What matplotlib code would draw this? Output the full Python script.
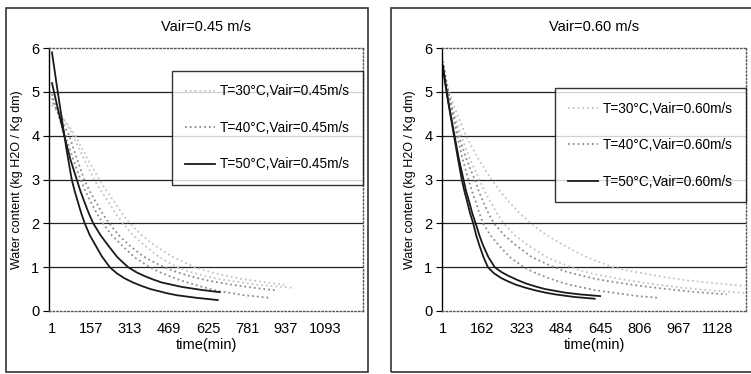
import matplotlib.pyplot as plt
from matplotlib.patches import Rectangle

plt.rcParams['font.family'] = ['Liberation Sans', 'DejaVu Sans']

# ---- Vair = 0.45 m/s (two runs per temperature) ----
t50a_45 = [1, 20, 40, 60, 80, 92, 105, 118, 132, 152, 175, 200, 232, 260, 290, 325, 360, 395, 430, 465, 500, 580, 664]
w50a_45 = [5.9, 5.15, 4.4, 3.65, 3.0, 2.73, 2.48, 2.23, 2.0, 1.73, 1.5, 1.25, 1.0, 0.86, 0.75, 0.65, 0.57, 0.5, 0.45, 0.4, 0.36, 0.30, 0.25]
t50b_45 = [1, 25, 50, 75, 100, 115, 130, 148, 166, 195, 225, 262, 305, 340, 370, 405, 440, 480, 520, 600, 672]
w50b_45 = [5.2, 4.6, 4.0, 3.45, 3.0, 2.73, 2.5, 2.23, 2.0, 1.73, 1.5, 1.23, 1.0, 0.88, 0.8, 0.72, 0.65, 0.6, 0.55, 0.48, 0.43]
t40a_45 = [1, 30, 60, 88, 115, 135, 155, 180, 205, 240, 280, 330, 392, 430, 470, 515, 560, 615, 672, 770, 872]
w40a_45 = [4.95, 4.4, 3.9, 3.43, 3.0, 2.73, 2.5, 2.23, 2.0, 1.73, 1.5, 1.23, 1.0, 0.89, 0.8, 0.7, 0.62, 0.53, 0.45, 0.36, 0.30]
t40b_45 = [1, 35, 70, 100, 130, 152, 175, 202, 230, 268, 310, 365, 430, 475, 520, 570, 620, 720, 820, 900]
w40b_45 = [4.85, 4.4, 4.0, 3.48, 3.0, 2.73, 2.5, 2.23, 2.0, 1.73, 1.5, 1.25, 1.05, 0.94, 0.85, 0.77, 0.70, 0.60, 0.52, 0.47]
t30a_45 = [1, 45, 85, 128, 170, 198, 225, 255, 285, 325, 370, 430, 500, 550, 600, 650, 700, 820, 964]
w30a_45 = [4.75, 4.4, 4.0, 3.48, 3.0, 2.73, 2.5, 2.23, 2.0, 1.73, 1.5, 1.23, 1.0, 0.9, 0.82, 0.75, 0.70, 0.60, 0.53]
t30b_45 = [1, 48, 95, 142, 190, 220, 250, 280, 312, 360, 410, 485, 572, 615, 660, 710, 760, 860, 930]
w30b_45 = [4.7, 4.38, 4.0, 3.48, 3.0, 2.73, 2.5, 2.23, 2.0, 1.73, 1.5, 1.23, 1.0, 0.92, 0.85, 0.79, 0.73, 0.65, 0.60]

# ---- Vair = 0.60 m/s ----
t50a_60 = [1, 20, 40, 60, 78, 89, 100, 112, 125, 137, 150, 167, 185, 210, 240, 270, 300, 340, 380, 420, 460, 540, 623]
w50a_60 = [5.6, 4.85, 4.2, 3.55, 3.0, 2.73, 2.5, 2.23, 2.0, 1.73, 1.5, 1.23, 1.0, 0.86, 0.75, 0.67, 0.60, 0.53, 0.47, 0.42, 0.38, 0.32, 0.28]
t50b_60 = [1, 22, 45, 65, 85, 96, 108, 121, 135, 150, 165, 187, 213, 240, 270, 305, 340, 380, 420, 460, 500, 560, 645]
w50b_60 = [5.5, 4.8, 4.1, 3.5, 3.0, 2.73, 2.5, 2.23, 2.0, 1.73, 1.5, 1.23, 1.0, 0.89, 0.8, 0.71, 0.63, 0.56, 0.50, 0.46, 0.42, 0.38, 0.34]
t40a_60 = [1, 28, 55, 80, 105, 120, 135, 150, 165, 195, 230, 275, 332, 375, 420, 470, 520, 620, 720, 800, 886]
w40a_60 = [5.7, 4.85, 4.1, 3.5, 3.0, 2.73, 2.5, 2.23, 2.0, 1.73, 1.5, 1.23, 1.0, 0.88, 0.78, 0.68, 0.60, 0.48, 0.40, 0.34, 0.30]
t40b_60 = [1, 32, 65, 98, 131, 148, 165, 187, 210, 252, 300, 365, 455, 505, 560, 620, 680, 800, 920, 1040, 1164]
w40b_60 = [5.6, 4.75, 4.0, 3.45, 3.0, 2.73, 2.5, 2.23, 2.0, 1.73, 1.5, 1.23, 1.0, 0.9, 0.82, 0.74, 0.68, 0.58, 0.50, 0.43, 0.38]
t30a_60 = [1, 38, 75, 112, 150, 172, 195, 222, 250, 295, 350, 425, 525, 580, 640, 700, 760, 880, 1000, 1120, 1238]
w30a_60 = [5.5, 4.7, 4.0, 3.45, 3.0, 2.73, 2.5, 2.23, 2.0, 1.73, 1.5, 1.23, 1.0, 0.9, 0.82, 0.76, 0.70, 0.60, 0.52, 0.46, 0.41]
t30b_60 = [1, 48, 95, 148, 200, 235, 270, 315, 361, 418, 480, 580, 697, 750, 800, 850, 900, 1000, 1120, 1238]
w30b_60 = [5.4, 4.65, 4.0, 3.45, 3.0, 2.73, 2.5, 2.23, 2.0, 1.76, 1.55, 1.25, 1.0, 0.93, 0.88, 0.83, 0.78, 0.70, 0.63, 0.57]

ticks_45 = [1, 157, 313, 469, 625, 781, 937, 1093]
ticks_60 = [1, 162, 323, 484, 645, 806, 967, 1128]

c30, c40, c50 = '#c4c4c4', '#8c8c8c', '#1a1a1a'

fig = plt.figure(figsize=(7.51, 3.74), dpi=100)

# panel frames
for x0, w in [(6, 362), (391, 362)]:
    fig.patches.append(Rectangle((x0 / 751, 2 / 374), w / 751, 364 / 374, transform=fig.transFigure,
                                 fill=False, ec='#333333', lw=1.2))

ax1 = fig.add_axes([49 / 751, 63 / 374, 314 / 751, 263 / 374])
ax2 = fig.add_axes([442 / 751, 63 / 374, 304 / 751, 263 / 374])


def style(ax, ticks, xmin, xmax, title, legbox):
    ax.set_xlim(xmin, xmax)
    ax.set_ylim(0, 6)
    ax.set_yticks(range(7))
    ax.set_xticks(ticks)
    ax.tick_params(axis='x', length=0, labelsize=10.5, pad=8)
    ax.tick_params(axis='y', length=4, labelsize=10.5, pad=3)
    for y in range(1, 6):
        ax.axhline(y, color='#222222', lw=0.9, zorder=0)
    ax.spines['left'].set_color('black')
    ax.spines['left'].set_linewidth(1.0)
    for s in ['top', 'right', 'bottom']:
        ax.spines[s].set_linestyle(':')
        ax.spines[s].set_color('#555555')
        ax.spines[s].set_linewidth(1.0)
    ax.set_xlabel('time(min)', fontsize=10.5, labelpad=1)
    ax.set_ylabel('Water content (kg H2O / Kg dm)', fontsize=9, labelpad=6)
    ax.set_title(title, fontsize=10.5, pad=12)
    leg = ax.legend(loc='upper right', bbox_to_anchor=legbox, fontsize=9.8, frameon=True,
                    fancybox=False, edgecolor='black', handlelength=2.2, handletextpad=0.3,
                    labelspacing=1.65, borderpad=1.0, borderaxespad=0)
    leg.get_frame().set_linewidth(1.0)


ax1.plot(t30a_45, w30a_45, ':', color=c30, lw=1.3, label='T=30°C,Vair=0.45m/s')
ax1.plot(t30b_45, w30b_45, ':', color=c30, lw=1.3, label='_nolegend_')
ax1.plot(t40a_45, w40a_45, ':', color=c40, lw=1.3, label='T=40°C,Vair=0.45m/s')
ax1.plot(t40b_45, w40b_45, ':', color=c40, lw=1.3, label='_nolegend_')
ax1.plot(t50a_45, w50a_45, '-', color=c50, lw=1.3, label='T=50°C,Vair=0.45m/s')
ax1.plot(t50b_45, w50b_45, '-', color=c50, lw=1.3, label='_nolegend_')
style(ax1, ticks_45, -11, 1245, 'Vair=0.45 m/s', (1.0, 0.913))

ax2.plot(t30a_60, w30a_60, ':', color=c30, lw=1.3, label='T=30°C,Vair=0.60m/s')
ax2.plot(t30b_60, w30b_60, ':', color=c30, lw=1.3, label='_nolegend_')
ax2.plot(t40a_60, w40a_60, ':', color=c40, lw=1.3, label='T=40°C,Vair=0.60m/s')
ax2.plot(t40b_60, w40b_60, ':', color=c40, lw=1.3, label='_nolegend_')
ax2.plot(t50a_60, w50a_60, '-', color=c50, lw=1.3, label='T=50°C,Vair=0.60m/s')
ax2.plot(t50b_60, w50b_60, '-', color=c50, lw=1.3, label='_nolegend_')
style(ax2, ticks_60, -3, 1243, 'Vair=0.60 m/s', (1.0, 0.848))

fig.savefig('out.png', dpi=100)
